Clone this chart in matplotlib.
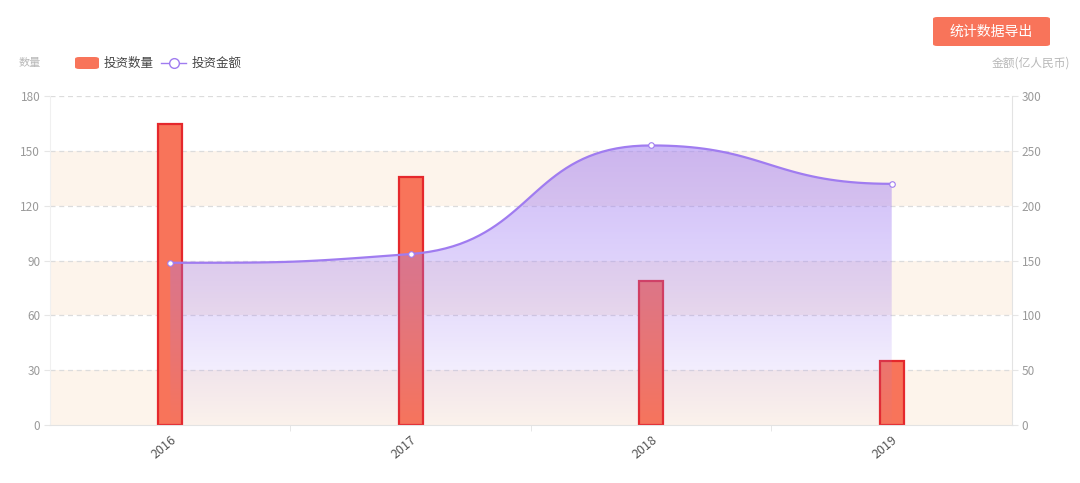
import matplotlib

matplotlib.use("Agg")
import matplotlib.pyplot as plt
import numpy as np
from matplotlib.patches import FancyBboxPatch, PathPatch
from matplotlib.lines import Line2D
from matplotlib.path import Path
from matplotlib.colors import LinearSegmentedColormap

plt.rcParams["font.family"] = ["Noto Sans CJK SC", "DejaVu Sans"]

years = ["2016", "2017", "2018", "2019"]
counts = [165, 136, 79, 35]
amounts = [148, 156, 255, 220]

left_ticks = [0, 30, 60, 90, 120, 150, 180]
right_ticks = [0, 50, 100, 150, 200, 250, 300]

BAR_FC = "#f8745a"
BAR_EC = "#e5282c"
LINE_C = "#a07cf0"
BAND_C = "#fdf4eb"
GRID_C = "#dcdcdc"
AXIS_C = "#e3e3e3"
TXT_C = "#9a9a9a"


def clamp(v, a, b):
    return min(max(v, min(a, b)), max(a, b))


def smooth_curve(xs, ys, sx, sy, smooth=0.5, n=40):
    # bezier smoothing with control points kept between neighbours (no overshoot)
    px = [v * sx for v in xs]
    py = [v * sy for v in ys]
    m = len(px)
    cp_in = [None] * m
    cp_out = [None] * m
    # flat tangents at both ends
    cp_out[0] = (px[0] + (px[1] - px[0]) * smooth, py[0])
    cp_in[-1] = (px[-1] - (px[-1] - px[-2]) * smooth, py[-1])
    for i in range(1, m - 1):
        x, y = px[i], py[i]
        x0, y0 = px[i - 1], py[i - 1]
        x1, y1 = px[i + 1], py[i + 1]
        vx, vy = x1 - x0, y1 - y0
        lp = np.hypot(x - x0, y - y0)
        ln = np.hypot(x1 - x, y1 - y)
        r = ln / (ln + lp)
        c1x = clamp(x + vx * smooth * r, x, x1)
        c1y = clamp(y + vy * smooth * r, y, y1)
        vx, vy = c1x - x, c1y - y
        c0x = clamp(x - vx * lp / ln, x0, x)
        c0y = clamp(y - vy * lp / ln, y0, y)
        vx, vy = x - c0x, y - c0y
        c1x = x + vx * ln / lp
        c1y = y + vy * ln / lp
        cp_in[i] = (c0x, c0y)
        cp_out[i] = (c1x, c1y)
    t = np.linspace(0, 1, n)[1:, None]
    out = [np.array([px[0], py[0]])]
    for i in range(m - 1):
        p0 = np.array([px[i], py[i]])
        p3 = np.array([px[i + 1], py[i + 1]])
        c1 = np.array(cp_out[i])
        c2 = np.array(cp_in[i + 1])
        seg = (1 - t) ** 3 * p0 + 3 * (1 - t) ** 2 * t * c1 + 3 * (1 - t) * t ** 2 * c2 + t ** 3 * p3
        out.extend(seg)
    out = np.array(out)
    return out[:, 0] / sx, out[:, 1] / sy


fig = plt.figure(figsize=(10.8, 4.83), dpi=100)
ax = fig.add_axes([0.0463, 0.120, 0.8907, 0.681])
ax2 = ax.twinx()

x = np.arange(len(years))
ax.set_xlim(-0.5, len(years) - 0.5)
ax.set_ylim(0, 180)
ax2.set_ylim(0, 300)

# alternating split areas
for i in range(len(left_ticks) - 1):
    if i % 2 == 0:
        ax.axhspan(left_ticks[i], left_ticks[i + 1], color=BAND_C, lw=0, zorder=0)
for v in left_ticks[1:]:
    ax.axhline(v, color=GRID_C, lw=0.9, ls=(0, (4, 3)), zorder=1)

ax.bar(x, counts, width=0.1, color=BAR_FC, edgecolor=BAR_EC, linewidth=1.6, zorder=2)

# smooth line with gradient area on right axis
cx, cy = smooth_curve(x, amounts, 240.0, 329.0 / 300.0)
verts = np.vstack([[cx[0], 0], np.column_stack([cx, cy]), [cx[-1], 0], [cx[0], 0]])
poly = Path(verts)
cmap = LinearSegmentedColormap.from_list(
    "g", [(0.62, 0.48, 0.95, 0.02), (0.62, 0.48, 0.95, 0.30), (0.62, 0.48, 0.95, 0.52)]
)
grad = np.linspace(0, 1, 256).reshape(-1, 1)
im = ax2.imshow(grad, cmap=cmap, origin="lower", aspect="auto",
                extent=[cx[0], cx[-1], 0, max(amounts)], zorder=3, interpolation="bicubic")
clip = PathPatch(poly, transform=ax2.transData, fc="none", ec="none")
ax2.add_patch(clip)
im.set_clip_path(clip)
ax2.plot(cx, cy, color=LINE_C, lw=1.6, zorder=4)
ax2.plot(x, amounts, ls="none", marker="o", ms=4, mfc="white", mec=LINE_C, mew=0.8, zorder=5)
ax2.set_xlim(-0.5, len(years) - 0.5)

# axes styling
for a in (ax, ax2):
    for s in a.spines.values():
        s.set_visible(False)
ax.spines["bottom"].set_visible(True)
ax.spines["bottom"].set_color(AXIS_C)
ax.spines["left"].set_visible(True)
ax.spines["left"].set_color("#f0f0f0")
ax2.spines["right"].set_visible(True)
ax2.spines["right"].set_color(AXIS_C)

ax.set_yticks(left_ticks)
ax.set_yticklabels([str(v) for v in left_ticks])
ax.tick_params(axis="y", colors=TXT_C, labelsize=8.5, length=4, width=0.8, pad=3)
ax.tick_params(axis="y", color="#e6e6e6")
ax2.set_yticks(right_ticks)
ax2.set_yticklabels([str(v) for v in right_ticks])
ax2.tick_params(axis="y", colors=TXT_C, labelsize=8.5, length=4, width=0.8, pad=3)
ax2.tick_params(axis="y", color="#e6e6e6")

ax.set_xticks(x)
ax.set_xticklabels(years, rotation=40, ha="right", rotation_mode="anchor")
ax.tick_params(axis="x", length=0, labelsize=9, labelcolor="#555555", pad=6)
ax.set_xticks(np.arange(0.5, len(years) - 1), minor=True)
ax.tick_params(axis="x", which="minor", length=4, color=AXIS_C)
ax.grid(False)
ax2.grid(False)

# axis names
fig.text(30 / 1080, 1 - 63 / 483, "数量", fontsize=8, color="#b8b8b8", ha="center", va="center")
fig.text(1031 / 1080, 1 - 63 / 483, "金额(亿人民币)", fontsize=8.5, color="#b8b8b8", ha="center", va="center")

# legend
fig.patches.append(FancyBboxPatch((75 / 1080, 1 - 69 / 483), 24 / 1080, 12 / 483,
                                  boxstyle="round,pad=0,rounding_size=0.004",
                                  transform=fig.transFigure, fc=BAR_FC, ec="none"))
fig.text(104 / 1080, 1 - 63 / 483, "投资数量", fontsize=9, color="#444444", va="center")
fig.lines.append(Line2D([161 / 1080, 186 / 1080], [1 - 63 / 483] * 2, transform=fig.transFigure,
                        color=LINE_C, lw=1))
fig.lines.append(Line2D([173.5 / 1080], [1 - 63 / 483], transform=fig.transFigure, marker="o",
                        ms=7, mfc="white", mec=LINE_C, mew=1))
fig.text(192 / 1080, 1 - 63 / 483, "投资金额", fontsize=9, color="#444444", va="center")

# export button
fig.patches.append(FancyBboxPatch((933 / 1080, 1 - 46 / 483), 117 / 1080, 29 / 483,
                                  boxstyle="round,pad=0,rounding_size=0.004",
                                  transform=fig.transFigure, fc=BAR_FC, ec="none"))
fig.text(991 / 1080, 1 - 31.5 / 483, "统计数据导出", fontsize=10, color="white",
         ha="center", va="center")

fig.savefig("out.png", dpi=100)
